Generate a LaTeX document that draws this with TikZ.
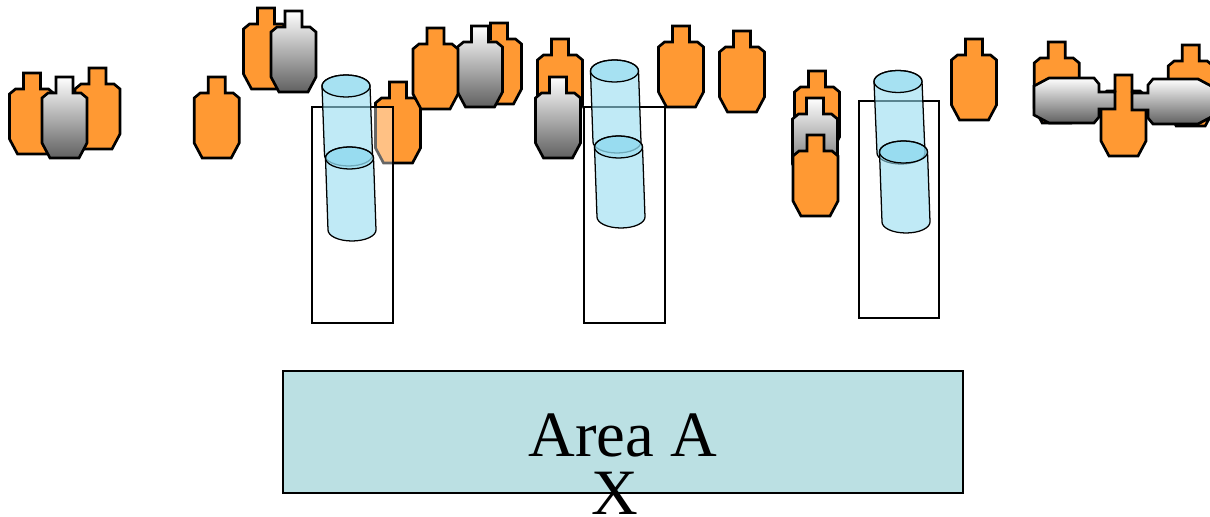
\documentclass[tikz,border=0pt]{standalone}
\usepackage{fontspec}
\setmainfont{Liberation Serif}
\usetikzlibrary{positioning}
\definecolor{tgtorange}{RGB}{255,153,51}
\definecolor{tgtgrey}{RGB}{96,96,96}
\definecolor{tubeblue}{RGB}{150,220,240}
\definecolor{tubetop}{RGB}{135,215,238}
\definecolor{areafill}{RGB}{187,224,227}
\tikzset{
    tline/.style={line width=1.9pt, draw=black},
    boxline/.style={line width=0.9pt, draw=black},
    tubeline/.style={line width=0.9pt, draw=black},
}
\newcommand{\tgtshape}{(-8.5,0) -- (8.5,0) -- (8.5,16) -- (16.5,16) -- (22.5,21) -- (22.5,66) -- (14.5,81) -- (-14.5,81) -- (-22.5,66) -- (-22.5,21) -- (-16.5,16) -- (-8.5,16) -- cycle}
\newcommand{\otarget}[2] {
    \filldraw[tline, fill=tgtorange, shift={(#1,#2)}] \tgtshape;
}
\newcommand{\gtarget}[3] {
    \shadedraw[tline, top color=white, bottom color=tgtgrey, shift={(#1,#2)}, rotate=#3] \tgtshape;
}
\newcommand{\tube}[4] {
    \filldraw[tubeline, fill=tubeblue, fill opacity=0.6] (#1-24,#2) -- (#3-24,#4) arc[start angle=180, end angle=0, x radius=24, y radius=11] -- (#1+24,#2) arc[start angle=0, end angle=-180, x radius=24, y radius=11] -- cycle;
    \filldraw[tubeline, fill=tubetop, fill opacity=0.45] (#1,#2) ellipse[x radius=24, y radius=11];
}

\begin{document}
\begin{tikzpicture}[x=0.025cm, y=-0.025cm]
    \useasboundingbox (0,0) rectangle (1210,517);
    \otarget{32}{73}
    \otarget{97.5}{68}
    \gtarget{64.5}{77}{0}
    \otarget{216.7}{77}
    \otarget{266}{8}
    \gtarget{293.5}{11}{0}
    \otarget{398}{82}
    \filldraw[boxline, fill=white, fill opacity=0.4] (312,107) rectangle (393,323);
    \tube{346}{86}{348.5}{155}
    \tube{349.5}{158}{352}{230}
    \otarget{499}{23}
    \gtarget{480}{26}{0}
    \otarget{435.5}{28}
    \otarget{560}{39}
    \gtarget{558}{77}{0}
    \draw[boxline] (584,107) rectangle (665,323);
    \tube{614.5}{71}{617}{142}
    \tube{618.5}{147}{621}{217}
    \otarget{681}{26}
    \otarget{742}{31}
    \otarget{817}{71}
    \gtarget{815}{98}{0}
    \otarget{815.5}{135}
    \draw[boxline] (859,101) rectangle (939,318);
    \tube{898}{81.5}{901}{153}
    \tube{903.5}{152}{906}{222}
    \otarget{974}{39}
    \otarget{1056.7}{42}
    \otarget{1190.7}{45}
    \otarget{1123.5}{75}
    \gtarget{1115}{100.5}{-90}
    \gtarget{1132}{101.5}{90}
    \filldraw[line width=1.2pt, fill=areafill] (283,371) rectangle (963,493);
    \node[anchor=base, font=\fontsize{46}{50}\selectfont, inner sep=0pt] (arealabel) at (623,456) {Area A};
    \node[anchor=base, font=\fontsize{46}{50}\selectfont, inner sep=0pt] (xmark) at (615,514) {X};
\end{tikzpicture}
\end{document}
